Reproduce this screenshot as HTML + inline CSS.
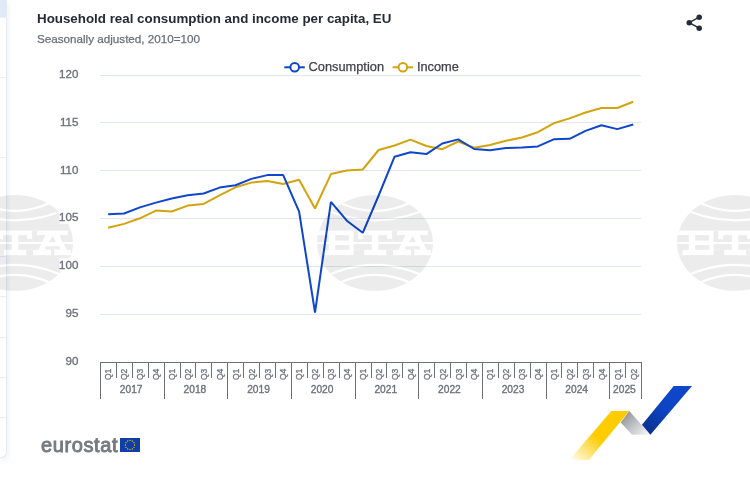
<!DOCTYPE html>
<html><head><meta charset="utf-8"><style>
html,body{margin:0;padding:0;background:#fff;}
body{width:750px;height:486px;position:relative;overflow:hidden;font-family:"Liberation Sans",sans-serif;}
.panel{position:absolute;left:0;top:0;width:6px;height:457px;border-right:1px solid #e6eaf2;border-bottom:1px solid #e6eaf2;border-bottom-right-radius:6px;box-shadow:1px 2px 5px rgba(60,80,130,0.09);background:#fff;}
.panel .top{position:absolute;left:0;top:0;width:6px;height:18px;background:linear-gradient(#e1e8f8 17px,#eef2fb 17px);}
.panel .hl{position:absolute;left:0;width:6px;height:1px;background:#e8edf8;}
.title{position:absolute;left:37px;top:10.6px;font-size:13.35px;font-weight:700;color:#262a36;white-space:nowrap;line-height:16px;}
.sub{position:absolute;left:37px;top:32.4px;font-size:11.66px;color:#6b6e78;-webkit-text-stroke:0.25px #6b6e78;white-space:nowrap;line-height:14px;}
svg{position:absolute;left:0;top:0;will-change:transform;}
.title,.sub,.eu{will-change:transform;}
.yl{font-size:11.5px;fill:#6E7079;stroke:#6E7079;stroke-width:0.35px;text-anchor:end;font-family:"Liberation Sans",sans-serif;}
.ql{font-size:8.5px;fill:#6E7079;stroke:#6E7079;stroke-width:0.3px;font-family:"Liberation Sans",sans-serif;text-anchor:middle;}
.yr{font-size:10.2px;fill:#6E7079;stroke:#6E7079;stroke-width:0.35px;font-family:"Liberation Sans",sans-serif;text-anchor:middle;}
.lg{font-size:12.8px;fill:#404146;stroke:#404146;stroke-width:0.25px;font-family:"Liberation Sans",sans-serif;}
.eu{position:absolute;left:41px;top:433.4px;font-size:20px;font-weight:400;color:#777981;-webkit-text-stroke:0.9px #777981;letter-spacing:0.6px;line-height:24px;}
</style></head><body>
<div class="panel"><div class="top"></div>
<div class="hl" style="top:77px"></div><div class="hl" style="top:157px"></div><div class="hl" style="top:256px"></div><div class="hl" style="top:296px"></div><div class="hl" style="top:337px"></div><div class="hl" style="top:377px"></div><div class="hl" style="top:417px"></div>
</div>
<div class="title">Household real consumption and income per capita, EU</div>
<div class="sub">Seasonally adjusted, 2010=100</div>
<svg width="750" height="486" viewBox="0 0 750 486">
<g fill="#262b3a" stroke="#262b3a">
<line x1="699.2" y1="17.2" x2="689.2" y2="22.7" stroke-width="1.5"/>
<line x1="699.2" y1="28.2" x2="689.2" y2="22.7" stroke-width="1.5"/>
<circle cx="699.2" cy="17.2" r="2.75" stroke="none"/>
<circle cx="689.2" cy="22.7" r="2.75" stroke="none"/>
<circle cx="699.2" cy="28.2" r="2.75" stroke="none"/>
</g>
<rect x="100" y="75" width="541" height="1" fill="#E0E6F1"/>
<rect x="100" y="122" width="541" height="1" fill="#E0E6F1"/>
<rect x="100" y="170" width="541" height="1" fill="#E0E6F1"/>
<rect x="100" y="218" width="541" height="1" fill="#E0E6F1"/>
<rect x="100" y="266" width="541" height="1" fill="#E0E6F1"/>
<rect x="100" y="314" width="541" height="1" fill="#E0E6F1"/>
<text x="78.3" y="77.8" class="yl">120</text>
<text x="78.3" y="125.6" class="yl">115</text>
<text x="78.3" y="173.5" class="yl">110</text>
<text x="78.3" y="221.3" class="yl">105</text>
<text x="78.3" y="269.1" class="yl">100</text>
<text x="78.3" y="317.0" class="yl">95</text>
<text x="78.3" y="364.8" class="yl">90</text>
<rect x="100" y="362" width="542" height="1" fill="#6E7079"/>
<rect x="100" y="362" width="1" height="37" fill="#6E7079"/>
<rect x="116" y="362" width="1" height="16" fill="#6E7079"/>
<rect x="132" y="362" width="1" height="16" fill="#6E7079"/>
<rect x="148" y="362" width="1" height="16" fill="#6E7079"/>
<rect x="164" y="362" width="1" height="37" fill="#6E7079"/>
<rect x="180" y="362" width="1" height="16" fill="#6E7079"/>
<rect x="195" y="362" width="1" height="16" fill="#6E7079"/>
<rect x="211" y="362" width="1" height="16" fill="#6E7079"/>
<rect x="227" y="362" width="1" height="37" fill="#6E7079"/>
<rect x="243" y="362" width="1" height="16" fill="#6E7079"/>
<rect x="259" y="362" width="1" height="16" fill="#6E7079"/>
<rect x="275" y="362" width="1" height="16" fill="#6E7079"/>
<rect x="291" y="362" width="1" height="37" fill="#6E7079"/>
<rect x="307" y="362" width="1" height="16" fill="#6E7079"/>
<rect x="323" y="362" width="1" height="16" fill="#6E7079"/>
<rect x="339" y="362" width="1" height="16" fill="#6E7079"/>
<rect x="355" y="362" width="1" height="37" fill="#6E7079"/>
<rect x="371" y="362" width="1" height="16" fill="#6E7079"/>
<rect x="386" y="362" width="1" height="16" fill="#6E7079"/>
<rect x="402" y="362" width="1" height="16" fill="#6E7079"/>
<rect x="418" y="362" width="1" height="37" fill="#6E7079"/>
<rect x="434" y="362" width="1" height="16" fill="#6E7079"/>
<rect x="450" y="362" width="1" height="16" fill="#6E7079"/>
<rect x="466" y="362" width="1" height="16" fill="#6E7079"/>
<rect x="482" y="362" width="1" height="37" fill="#6E7079"/>
<rect x="498" y="362" width="1" height="16" fill="#6E7079"/>
<rect x="514" y="362" width="1" height="16" fill="#6E7079"/>
<rect x="530" y="362" width="1" height="16" fill="#6E7079"/>
<rect x="546" y="362" width="1" height="37" fill="#6E7079"/>
<rect x="561" y="362" width="1" height="16" fill="#6E7079"/>
<rect x="577" y="362" width="1" height="16" fill="#6E7079"/>
<rect x="593" y="362" width="1" height="16" fill="#6E7079"/>
<rect x="609" y="362" width="1" height="37" fill="#6E7079"/>
<rect x="625" y="362" width="1" height="16" fill="#6E7079"/>
<rect x="641" y="362" width="1" height="37" fill="#6E7079"/>
<text class="ql" transform="translate(111.46,374.4) rotate(-90)">Q1</text>
<text class="ql" transform="translate(127.37,374.4) rotate(-90)">Q2</text>
<text class="ql" transform="translate(143.28,374.4) rotate(-90)">Q3</text>
<text class="ql" transform="translate(159.19,374.4) rotate(-90)">Q4</text>
<text class="ql" transform="translate(175.10,374.4) rotate(-90)">Q1</text>
<text class="ql" transform="translate(191.01,374.4) rotate(-90)">Q2</text>
<text class="ql" transform="translate(206.93,374.4) rotate(-90)">Q3</text>
<text class="ql" transform="translate(222.84,374.4) rotate(-90)">Q4</text>
<text class="ql" transform="translate(238.75,374.4) rotate(-90)">Q1</text>
<text class="ql" transform="translate(254.66,374.4) rotate(-90)">Q2</text>
<text class="ql" transform="translate(270.57,374.4) rotate(-90)">Q3</text>
<text class="ql" transform="translate(286.49,374.4) rotate(-90)">Q4</text>
<text class="ql" transform="translate(302.40,374.4) rotate(-90)">Q1</text>
<text class="ql" transform="translate(318.31,374.4) rotate(-90)">Q2</text>
<text class="ql" transform="translate(334.22,374.4) rotate(-90)">Q3</text>
<text class="ql" transform="translate(350.13,374.4) rotate(-90)">Q4</text>
<text class="ql" transform="translate(366.04,374.4) rotate(-90)">Q1</text>
<text class="ql" transform="translate(381.96,374.4) rotate(-90)">Q2</text>
<text class="ql" transform="translate(397.87,374.4) rotate(-90)">Q3</text>
<text class="ql" transform="translate(413.78,374.4) rotate(-90)">Q4</text>
<text class="ql" transform="translate(429.69,374.4) rotate(-90)">Q1</text>
<text class="ql" transform="translate(445.60,374.4) rotate(-90)">Q2</text>
<text class="ql" transform="translate(461.51,374.4) rotate(-90)">Q3</text>
<text class="ql" transform="translate(477.43,374.4) rotate(-90)">Q4</text>
<text class="ql" transform="translate(493.34,374.4) rotate(-90)">Q1</text>
<text class="ql" transform="translate(509.25,374.4) rotate(-90)">Q2</text>
<text class="ql" transform="translate(525.16,374.4) rotate(-90)">Q3</text>
<text class="ql" transform="translate(541.07,374.4) rotate(-90)">Q4</text>
<text class="ql" transform="translate(556.99,374.4) rotate(-90)">Q1</text>
<text class="ql" transform="translate(572.90,374.4) rotate(-90)">Q2</text>
<text class="ql" transform="translate(588.81,374.4) rotate(-90)">Q3</text>
<text class="ql" transform="translate(604.72,374.4) rotate(-90)">Q4</text>
<text class="ql" transform="translate(620.63,374.4) rotate(-90)">Q1</text>
<text class="ql" transform="translate(636.54,374.4) rotate(-90)">Q2</text>
<text class="yr" x="131.2" y="392.6">2017</text>
<text class="yr" x="194.9" y="392.6">2018</text>
<text class="yr" x="258.5" y="392.6">2019</text>
<text class="yr" x="322.1" y="392.6">2020</text>
<text class="yr" x="385.8" y="392.6">2021</text>
<text class="yr" x="449.4" y="392.6">2022</text>
<text class="yr" x="513.0" y="392.6">2023</text>
<text class="yr" x="576.7" y="392.6">2024</text>
<text class="yr" x="624.4" y="392.6">2025</text>
<polyline points="108.16,227.70 124.07,223.90 139.98,218.30 155.89,210.60 171.80,211.50 187.71,205.60 203.63,203.90 219.54,195.40 235.45,187.30 251.36,182.60 267.27,181.00 283.19,184.00 299.10,179.70 315.01,208.50 330.92,174.10 346.83,170.50 362.74,169.50 378.66,150.00 394.57,145.50 410.48,139.60 426.39,146.00 442.30,149.20 458.21,141.50 474.13,147.70 490.04,145.00 505.95,140.80 521.86,137.50 537.77,132.20 553.69,123.30 569.60,118.40 585.51,112.50 601.42,108.00 617.33,108.00 633.24,101.80" fill="none" stroke="#D2A40F" stroke-width="2" stroke-linejoin="bevel"/>
<polyline points="108.16,214.30 124.07,213.50 139.98,207.40 155.89,202.60 171.80,198.50 187.71,195.30 203.63,193.50 219.54,187.60 235.45,185.30 251.36,178.90 267.27,175.10 283.19,175.10 299.10,211.60 315.01,312.50 330.92,201.80 346.83,220.70 362.74,232.80 378.66,195.50 394.57,156.70 410.48,152.20 426.39,154.10 442.30,143.50 458.21,139.40 474.13,149.00 490.04,150.20 505.95,148.10 521.86,147.50 537.77,146.40 553.69,139.30 569.60,138.80 585.51,130.90 601.42,125.30 617.33,129.10 633.24,124.50" fill="none" stroke="#0E47CB" stroke-width="2" stroke-linejoin="bevel"/>
<line x1="284.3" y1="67.3" x2="304.8" y2="67.3" stroke="#0E47CB" stroke-width="2"/>
<circle cx="294.7" cy="67.3" r="4.3" fill="#fff" stroke="#0E47CB" stroke-width="2"/>
<text class="lg" x="308.6" y="71.2">Consumption</text>
<line x1="392.6" y1="67.3" x2="413" y2="67.3" stroke="#D2A40F" stroke-width="2"/>
<circle cx="402.9" cy="67.3" r="4.3" fill="#fff" stroke="#D2A40F" stroke-width="2"/>
<text class="lg" x="416.9" y="71.2">Income</text>
</svg>
<div class="eu">eurostat</div>
<svg width="750" height="486" viewBox="0 0 750 486">
<rect x="120" y="438" width="20" height="14" fill="#0f3fa6"/>
<g fill="#f2cc00">
<circle cx="134.60" cy="445.00" r="0.65"/><circle cx="133.98" cy="447.30" r="0.65"/><circle cx="132.30" cy="448.98" r="0.65"/><circle cx="130.00" cy="449.60" r="0.65"/><circle cx="127.70" cy="448.98" r="0.65"/><circle cx="126.02" cy="447.30" r="0.65"/><circle cx="125.40" cy="445.00" r="0.65"/><circle cx="126.02" cy="442.70" r="0.65"/><circle cx="127.70" cy="441.02" r="0.65"/><circle cx="130.00" cy="440.40" r="0.65"/><circle cx="132.30" cy="441.02" r="0.65"/><circle cx="133.98" cy="442.70" r="0.65"/></g>
<defs>
<linearGradient id="gy" x1="569" y1="460" x2="612" y2="411" gradientUnits="userSpaceOnUse">
<stop offset="0" stop-color="#ffcc00" stop-opacity="0"/><stop offset="0.55" stop-color="#ffcc00"/><stop offset="1" stop-color="#ffcc00"/></linearGradient>
<linearGradient id="gg" x1="622" y1="412" x2="645" y2="436" gradientUnits="userSpaceOnUse">
<stop offset="0" stop-color="#888a8e"/><stop offset="1" stop-color="#f2f3f6"/></linearGradient>
<linearGradient id="gb" x1="680" y1="386" x2="648" y2="434" gradientUnits="userSpaceOnUse">
<stop offset="0" stop-color="#0e47cb"/><stop offset="0.5" stop-color="#0d44c2"/><stop offset="1" stop-color="#0a2f8e"/></linearGradient>
<clipPath id="lmc"><ellipse cx="0" cy="0" rx="57.9" ry="47.9"/></clipPath><mask id="lm" maskUnits="userSpaceOnUse" x="-60" y="-50" width="120" height="100">
<ellipse cx="0" cy="0" rx="57.9" ry="47.9" fill="#fff"/>
<g fill="none" stroke="#000" stroke-width="2.2">
<path d="M-60,-55.9 Q0,-8.1 60,-55.9"/>
<path d="M-62,-39.07 Q0,-5.93 62,-39.07"/>
<path d="M-62,40.1 Q0,3.9 62,40.1"/>
<path d="M-60,54.8 Q0,9.2 60,54.8"/>
</g>
<rect x="-62" y="-12.3" width="124" height="24.5" fill="#000"/>
<g clip-path="url(#lmc)"><rect x="52.9" y="-12.3" width="9.10" height="4.50" fill="#fff"/><rect x="-21.4" y="-12.3" width="4.60" height="11.30" fill="#fff"/><rect x="17.1" y="-12.3" width="4.80" height="4.50" fill="#fff"/><rect x="-62" y="-7.8" width="15.80" height="7.00" fill="#fff"/><rect x="-39.8" y="-7.8" width="13.80" height="5.40" fill="#fff"/><rect x="-21.4" y="-3.7" width="18.20" height="2.70" fill="#fff"/><rect x="-11.8" y="-7.8" width="8.60" height="7.00" fill="#fff"/><rect x="3.2" y="-7.8" width="8.90" height="7.00" fill="#fff"/><rect x="12.1" y="-4" width="5.00" height="3.20" fill="#fff"/><rect x="-62" y="1.1" width="15.80" height="6.10" fill="#fff"/><rect x="-62" y="7.2" width="9.70" height="5.00" fill="#fff"/><rect x="-39.8" y="2.2" width="14.20" height="4.80" fill="#fff"/><rect x="-21.4" y="1.2" width="18.20" height="5.60" fill="#fff"/><rect x="-21.4" y="6.8" width="10.50" height="5.40" fill="#fff"/><rect x="11.1" y="6.8" width="6.90" height="5.40" fill="#fff"/><rect x="36" y="6.5" width="3.20" height="5.70" fill="#fff"/><rect x="56" y="6.8" width="6.00" height="5.40" fill="#fff"/><polygon points="17.1,-7.8 30.5,-7.8 27.1,-0.8 17.1,-0.8" fill="#fff"/><polygon points="37.6,-6.9 41,-0.8 34,-0.8" fill="#fff"/><polygon points="52.9,-7.8 62,-7.8 62,-0.8 47.1,-0.8 44.6,-7.8" fill="#fff"/><polygon points="3.2,1.1 26.2,1.1 23.4,6.8 3.2,6.8" fill="#fff"/><polygon points="30.6,3.3 44.6,3.3 44.9,6.6 30.3,6.6" fill="#fff"/><polygon points="48.7,1.1 62,1.1 62,6.8 51.6,6.8" fill="#fff"/></g>
</mask>
</defs>
<polygon points="569.3,460 588.8,460 629.3,411 611.3,411" fill="url(#gy)"/>
<polygon points="629.3,411 650.4,434.7 632,434.7 620.7,422.4" fill="url(#gg)"/>
<polygon points="673.7,386 692,386 650.4,434.7 642,424.7" fill="url(#gb)"/>
<g fill="rgba(0,0,0,0.075)">
<rect x="-60" y="-50" width="120" height="100" mask="url(#lm)" transform="translate(15,242.9)"/>
<rect x="-60" y="-50" width="120" height="100" mask="url(#lm)" transform="translate(375,242.9)"/>
<rect x="-60" y="-50" width="120" height="100" mask="url(#lm)" transform="translate(735,242.9)"/>
</g>
<rect x="59.6" y="210.5" width="20.6" height="13.2" fill="#fff"/><text x="78.3" y="221.3" class="yl">105</text><rect x="59.6" y="258.3" width="20.6" height="13.2" fill="#fff"/><text x="78.3" y="269.1" class="yl">100</text></svg>
</body></html>
